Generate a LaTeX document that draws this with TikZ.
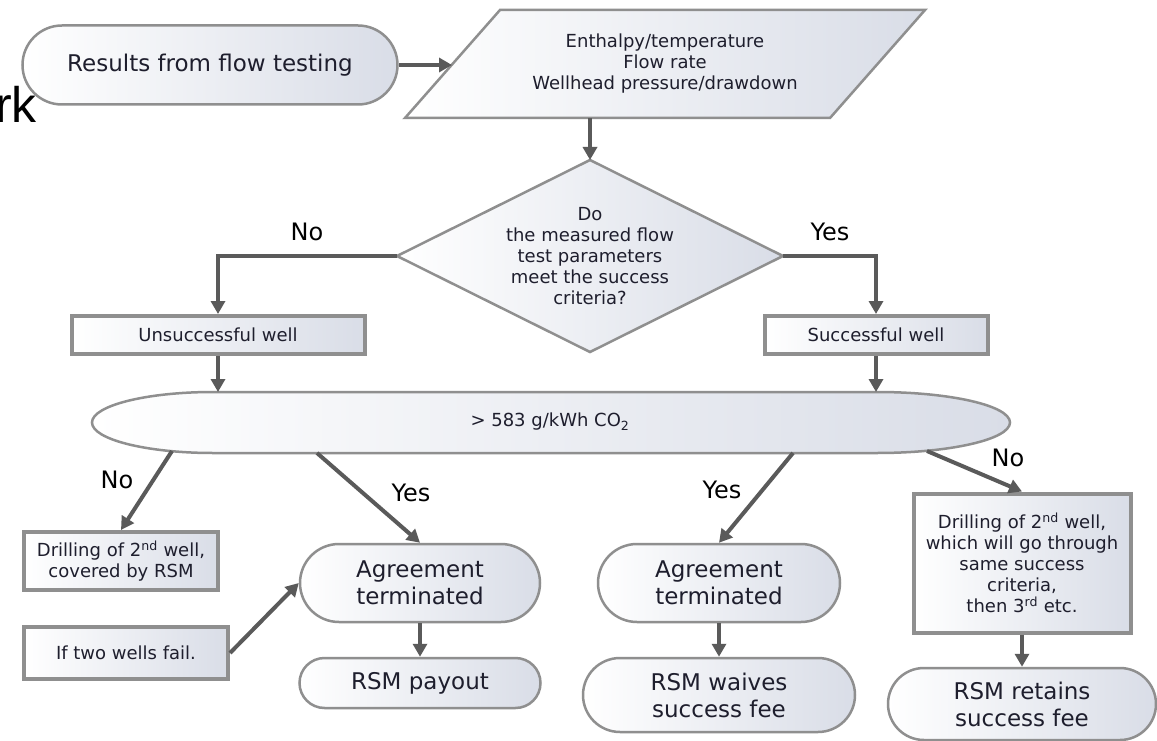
\documentclass[tikz,border=0pt]{standalone}
\usepackage{fontspec}
\setmainfont{DejaVu Sans}
\newfontfamily\rkfont{Liberation Sans}
\usetikzlibrary{arrows.meta}
\definecolor{bordc}{HTML}{8F8F8F}
\definecolor{fillc}{HTML}{D9DDE7}
\definecolor{arrc}{HTML}{5A5A5A}
\definecolor{txtc}{HTML}{1E1E2D}
\tikzset{
  shp/.style={draw=bordc, line width=2.5pt, left color=white, right color=fillc},
  stad/.style={shp, rectangle, inner sep=0pt, text=txtc, align=center, font=\fontsize{23}{27}\selectfont},
  box/.style={draw=bordc, line width=4pt, left color=white, right color=fillc, rectangle, inner sep=0pt, text=txtc, align=center, font=\fontsize{18}{21}\selectfont},
  lbl/.style={text=txtc, align=center, font=\fontsize{18}{21}\selectfont, inner sep=0pt},
  yn/.style={text=black, font=\fontsize{24}{24}\selectfont, inner sep=0pt},
  arr/.style={draw=arrc, line width=4pt, -{Triangle[length=13pt,width=14pt]}},
}
\begin{document}
\begin{tikzpicture}[x=1pt,y=-1pt]
\clip (0,0) rectangle (1157,741);
\useasboundingbox (0,0) rectangle (1157,741);
\fill[white] (0,0) rectangle (1157,741);

% cut-off text at left
\node[anchor=base east, inner sep=0pt, text=black, font=\rkfont\fontsize{50}{50}\selectfont] (rk) at (37,123) {rk};

% start
\node[stad, minimum width=375pt, minimum height=79pt, rounded corners=39.5pt] (res) at (210,65) {Results from flow testing};

% parallelogram
\path[shp] (500,10) -- (925,10) -- (830,118) -- (405,118) -- cycle;
\coordinate (pin) at (452,65);
\coordinate (pbot) at (590,118);
\node[lbl] (param) at (665,64) {Enthalpy/temperature\\Flow rate\\Wellhead pressure/drawdown};

% diamond
\path[shp] (590,160) -- (783,256) -- (590,352) -- (397,256) -- cycle;
\coordinate (dtop) at (590,160);
\coordinate (dleft) at (397,256);
\coordinate (dright) at (783,256);
\node[lbl] (dia) at (590,256) {Do\\the measured flow\\test parameters\\meet the success\\criteria?};

% well boxes
\node[box, minimum width=293pt, minimum height=38pt] (unsucc) at (218,335) {Unsuccessful well};
\node[box, minimum width=223pt, minimum height=38pt] (succ) at (876,335) {Successful well};

% ellipse-like shape
\path[shp] (213,392) -- (877,392)
  .. controls (950.5,392) and (1010,405.7) .. (1010,422.5)
  .. controls (1010,439.3) and (950.5,453) .. (877,453)
  -- (213,453)
  .. controls (146.2,453) and (92,439.3) .. (92,422.5)
  .. controls (92,405.7) and (146.2,392) .. (213,392) -- cycle;
\node[lbl] (ell) at (550,422) {> 583 g/kWh CO\textsubscript{2}};
\coordinate (etop1) at (218,392);
\coordinate (etop2) at (876,392);
\coordinate (e1) at (172,451);
\coordinate (e2) at (317,453);
\coordinate (e3) at (793,453);
\coordinate (e4) at (927,451);

% lower boxes
\node[box, minimum width=194pt, minimum height=58pt] (dr1) at (121,561) {Drilling of 2\textsuperscript{nd} well,\\covered by RSM};
\node[box, minimum width=217pt, minimum height=139pt] (dr2) at (1022,563) {Drilling of 2\textsuperscript{nd} well,\\which will go through\\same success\\criteria,\\then 3\textsuperscript{rd} etc.};
\node[box, minimum width=204pt, minimum height=52pt] (fail) at (126,653) {If two wells fail.};

% stadiums
\node[stad, minimum width=240pt, minimum height=78pt, rounded corners=39pt] (ag1) at (420,583) {Agreement\\terminated};
\node[stad, minimum width=242pt, minimum height=78pt, rounded corners=39pt] (ag2) at (719,583) {Agreement\\terminated};
\node[stad, minimum width=241pt, minimum height=50pt, rounded corners=25pt] (pay) at (420,683) {RSM payout};
\node[stad, minimum width=272pt, minimum height=74pt, rounded corners=37pt] (waive) at (719,695) {RSM waives\\success fee};
\node[stad, minimum width=268pt, minimum height=72pt, rounded corners=36pt] (retain) at (1022,704) {RSM retains\\success fee};

% labels
\node[yn] (no1) at (307,232) {No};
\node[yn] (yes1) at (830,232) {Yes};
\node[yn] (no2) at (117,480) {No};
\node[yn] (yes2) at (411,493) {Yes};
\node[yn] (yes3) at (722,490) {Yes};
\node[yn] (no3) at (1008,458) {No};

% connectors
\draw[arr] (res.east) -- (pin);
\draw[arr] (pbot) -- (dtop);
\draw[arr] (dleft) -| (unsucc.north);
\draw[arr] (dright) -| (succ.north);
\draw[arr] (unsucc.south) -- (etop1);
\draw[arr] (succ.south) -- (etop2);
\draw[arr] (e1) -- (dr1.north);
\draw[arr] (e2) -- (ag1.north);
\draw[arr] (e3) -- (ag2.north);
\draw[arr] (e4) -- (dr2.north);
\draw[arr] (ag1.south) -- (pay.north);
\draw[arr] (ag2.south) -- (waive.north);
\draw[arr] (dr2.south) -- (retain.north);
\draw[arr] (fail.east) -- (ag1.west);
\end{tikzpicture}
\end{document}
